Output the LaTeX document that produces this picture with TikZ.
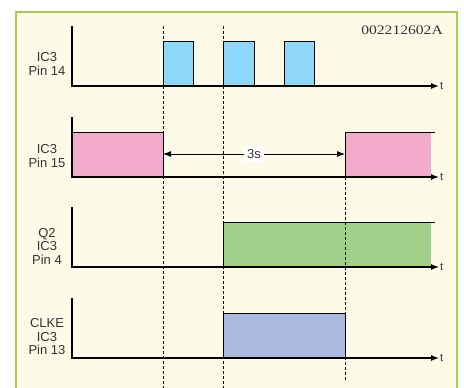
\documentclass[tikz,border=0pt]{standalone}
\usepackage{fontspec}
\setmainfont{Liberation Sans}
\newfontfamily\codefont{Liberation Serif}
\usetikzlibrary{arrows.meta}

\definecolor{paper}{HTML}{FEFAE8}
\definecolor{frameline}{HTML}{A8CF45}
\definecolor{pulseblue}{HTML}{8DD8F8}
\definecolor{levelpink}{HTML}{F3ABCB}
\definecolor{levelgreen}{HTML}{A0D08A}
\definecolor{levelblue}{HTML}{AAB9DE}
\definecolor{inktext}{HTML}{333333}

\tikzset{
  axisline/.style={line width=1.1pt, -{Latex[length=8pt,width=6pt]}},
  levelline/.style={line width=0.9pt},
  markline/.style={line width=0.8pt, dash pattern=on 3pt off 2pt},
  siglabel/.style={align=center, text=inktext, font=\fontsize{13}{13.5}\selectfont},
  tlabel/.style={anchor=west, inner sep=1pt, text=inktext, font=\fontsize{11}{12}\selectfont},
}

\begin{document}
\begin{tikzpicture}[x=1pt, y=-1pt]
  \useasboundingbox (0,0) rectangle (464,388);
  % frame
  \fill[paper] (16,12) rectangle (457,388);
  \draw[frameline, line width=2pt] (16,392) |- (457,12) -- (457,392);
  \node[anchor=east, text=inktext, inner sep=0pt] (code) at (443,30)
    {\codefont\fontsize{13}{13}\selectfont\scalebox{1.2}[1]{002212602A}};

  % IC3 pin 14: clock pulses
  \fill[pulseblue] (163,41) rectangle (193,86);
  \fill[pulseblue] (223,41) rectangle (254,86);
  \fill[pulseblue] (284,41) rectangle (314,86);
  \draw[levelline] (163,86) |- (193,41) -- (193,86);
  \draw[levelline] (223,86) |- (254,41) -- (254,86);
  \draw[levelline] (284,86) |- (314,41) -- (314,86);
  \draw[axisline] (72,26) -- (72,86) -- (439,86);
  \node[tlabel] (t1) at (439,86) {t};
  \node[siglabel] (pin14) at (47,64) {IC3\\Pin 14};

  % IC3 pin 15
  \fill[levelpink] (72,132) rectangle (163,177);
  \fill[levelpink] (345,132) rectangle (431,177);
  \draw[levelline] (72,132) -- (163,132) -- (163,177);
  \draw[levelline] (345,177) -- (345,132) -- (435,132);
  \draw[axisline] (72,117) -- (72,177) -- (439,177);
  \node[tlabel] (t2) at (439,177) {t};
  \node[siglabel] (pin15) at (47,156) {IC3\\Pin 15};
  \coordinate (gapstart) at (163,154);
  \coordinate (gapend) at (345,154);
  \draw[line width=0.9pt, {Latex[length=8pt,width=6pt]}-{Latex[length=8pt,width=6pt]}]
    (gapstart) -- (gapend);
  \node[fill=white, text=inktext, inner sep=3pt, font=\fontsize{13}{13}\selectfont] (delay) at (254,154) {3s};

  % Q2 / IC3 pin 4
  \fill[levelgreen] (223,222) rectangle (431,267);
  \draw[levelline] (223,267) -- (223,222) -- (435,222);
  \draw[axisline] (72,207) -- (72,267) -- (439,267);
  \node[tlabel] (t3) at (439,267) {t};
  \node[siglabel] (pin4) at (47,246) {Q2\\IC3\\Pin 4};

  % CLKE / IC3 pin 13
  \fill[levelblue] (223,313) rectangle (345,358);
  \draw[levelline] (223,358) -- (223,313) -- (345,313) -- (345,358);
  \draw[axisline] (72,298) -- (72,358) -- (439,358);
  \node[tlabel] (t4) at (439,358) {t};
  \node[siglabel] (pin13) at (47,337) {CLKE\\IC3\\Pin 13};

  % time markers
  \draw[markline] (163,26) -- (163,388);
  \draw[markline] (223,26) -- (223,388);
  \draw[markline] (345,177) -- (345,382);
\end{tikzpicture}
\end{document}
